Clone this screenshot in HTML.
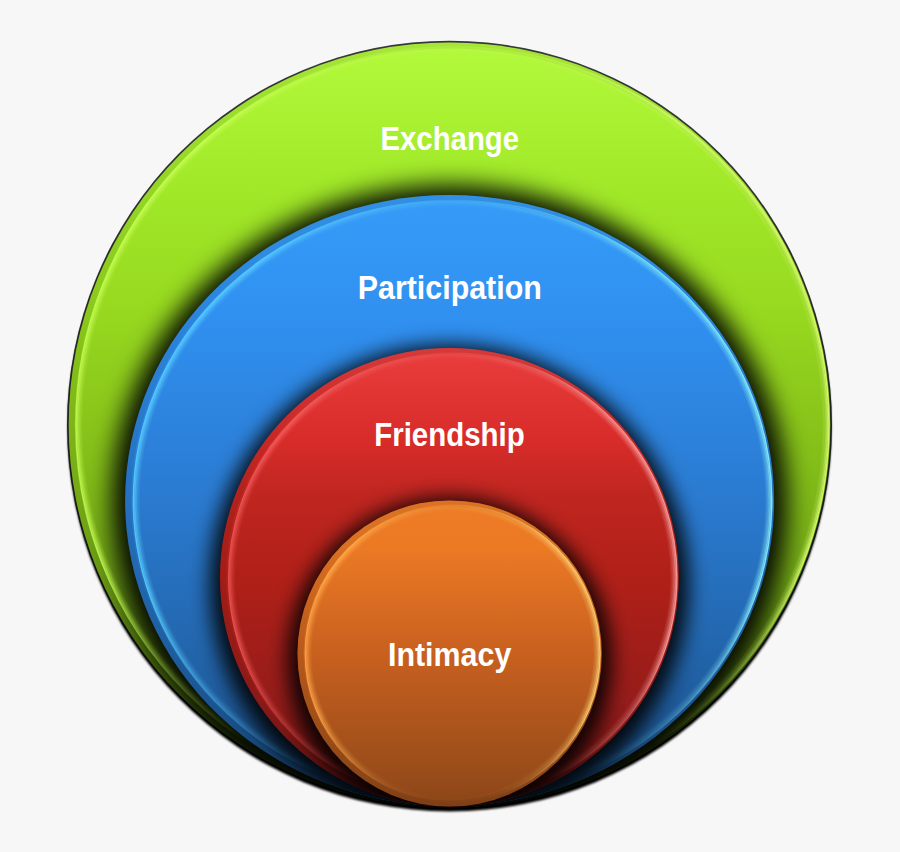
<!DOCTYPE html>
<html><head><meta charset="utf-8">
<style>
html,body{margin:0;padding:0;background:#f7f7f7;width:900px;height:852px;overflow:hidden}
svg{display:block}
text{font-family:"Liberation Sans",sans-serif;font-weight:bold;font-size:32.5px;fill:#fff}
</style></head><body>
<svg width="900" height="852" viewBox="0 0 900 852">
<rect width="900" height="852" fill="#f7f7f7"/>
<defs>
<linearGradient id="gG" x1="0" y1="42.39999999999998" x2="0" y2="807.6" gradientUnits="userSpaceOnUse"><stop offset="0" stop-color="#b3fa3c"/><stop offset="0.17" stop-color="#a2ea2a"/><stop offset="0.34" stop-color="#98da20"/><stop offset="0.5" stop-color="#88c41a"/><stop offset="0.7" stop-color="#74aa16"/><stop offset="0.85" stop-color="#557f10"/><stop offset="0.95" stop-color="#2a4008"/><stop offset="1" stop-color="#141e06"/></linearGradient>
<linearGradient id="gB" x1="0" y1="195.10000000000002" x2="0" y2="806.1" gradientUnits="userSpaceOnUse"><stop offset="0" stop-color="#369cf8"/><stop offset="0.2" stop-color="#3090f0"/><stop offset="0.5" stop-color="#2a7ad0"/><stop offset="0.72" stop-color="#2368b0"/><stop offset="1" stop-color="#184a80"/></linearGradient>
<linearGradient id="gR" x1="0" y1="348.0" x2="0" y2="806.5" gradientUnits="userSpaceOnUse"><stop offset="0" stop-color="#ea3e3e"/><stop offset="0.2" stop-color="#d82c2a"/><stop offset="0.32" stop-color="#c02620"/><stop offset="0.5" stop-color="#b02018"/><stop offset="0.77" stop-color="#961c1a"/><stop offset="1" stop-color="#6a1210"/></linearGradient>
<linearGradient id="gO" x1="0" y1="500.4" x2="0" y2="806.6" gradientUnits="userSpaceOnUse"><stop offset="0" stop-color="#ee7c26"/><stop offset="0.15" stop-color="#ec7a25"/><stop offset="0.5" stop-color="#c8601f"/><stop offset="0.9" stop-color="#984c1a"/><stop offset="1" stop-color="#8a4418"/></linearGradient>
<linearGradient id="gOut" x1="0" y1="40" x2="0" y2="810" gradientUnits="userSpaceOnUse"><stop offset="0" stop-color="#383838"/><stop offset="0.5" stop-color="#222"/><stop offset="0.8" stop-color="#080808"/><stop offset="1" stop-color="#000"/></linearGradient>
<linearGradient id="hG" x1="68.69999999999999" y1="0" x2="830.3" y2="0" gradientUnits="userSpaceOnUse"><stop offset="0" stop-color="#c8ff58" stop-opacity="0.85"/><stop offset="1" stop-color="#d8ff70" stop-opacity="0.95"/></linearGradient>
<linearGradient id="hB" x1="125.10000000000002" y1="0" x2="774.1" y2="0" gradientUnits="userSpaceOnUse"><stop offset="0" stop-color="#58d0ff" stop-opacity="0.9"/><stop offset="1" stop-color="#88f0ff" stop-opacity="0.95"/></linearGradient>
<linearGradient id="hR" x1="219.99999999999997" y1="0" x2="678.8" y2="0" gradientUnits="userSpaceOnUse"><stop offset="0" stop-color="#f05858" stop-opacity="0.85"/><stop offset="1" stop-color="#ffa0a0" stop-opacity="0.95"/></linearGradient>
<linearGradient id="hO" x1="297.45" y1="0" x2="601.8499999999999" y2="0" gradientUnits="userSpaceOnUse"><stop offset="0" stop-color="#ffa848" stop-opacity="0.85"/><stop offset="1" stop-color="#ffd070" stop-opacity="0.95"/></linearGradient>
<linearGradient id="mgG" x1="0" y1="42.39999999999998" x2="0" y2="807.6" gradientUnits="userSpaceOnUse"><stop offset="0" stop-color="#fff" stop-opacity="0.8"/><stop offset="0.2" stop-color="#fff" stop-opacity="1"/><stop offset="0.68" stop-color="#fff" stop-opacity="1"/><stop offset="0.84" stop-color="#fff" stop-opacity="0.3"/><stop offset="0.92" stop-color="#fff" stop-opacity="0"/></linearGradient>
<mask id="mG" maskUnits="userSpaceOnUse" x="0" y="0" width="900" height="852"><rect x="0" y="0" width="900" height="852" fill="url(#mgG)"/></mask>
<linearGradient id="mgB" x1="0" y1="195.10000000000002" x2="0" y2="806.1" gradientUnits="userSpaceOnUse"><stop offset="0" stop-color="#fff" stop-opacity="0.8"/><stop offset="0.2" stop-color="#fff" stop-opacity="1"/><stop offset="0.65" stop-color="#fff" stop-opacity="1"/><stop offset="0.86" stop-color="#fff" stop-opacity="0.3"/><stop offset="0.95" stop-color="#fff" stop-opacity="0"/></linearGradient>
<mask id="mB" maskUnits="userSpaceOnUse" x="0" y="0" width="900" height="852"><rect x="0" y="0" width="900" height="852" fill="url(#mgB)"/></mask>
<linearGradient id="mgR" x1="0" y1="348.0" x2="0" y2="806.5" gradientUnits="userSpaceOnUse"><stop offset="0" stop-color="#fff" stop-opacity="0.8"/><stop offset="0.2" stop-color="#fff" stop-opacity="1"/><stop offset="0.65" stop-color="#fff" stop-opacity="1"/><stop offset="0.86" stop-color="#fff" stop-opacity="0.3"/><stop offset="0.95" stop-color="#fff" stop-opacity="0"/></linearGradient>
<mask id="mR" maskUnits="userSpaceOnUse" x="0" y="0" width="900" height="852"><rect x="0" y="0" width="900" height="852" fill="url(#mgR)"/></mask>
<linearGradient id="mgO" x1="0" y1="500.4" x2="0" y2="806.6" gradientUnits="userSpaceOnUse"><stop offset="0" stop-color="#fff" stop-opacity="0.8"/><stop offset="0.2" stop-color="#fff" stop-opacity="1"/><stop offset="0.7" stop-color="#fff" stop-opacity="1"/><stop offset="0.9" stop-color="#fff" stop-opacity="0.3"/><stop offset="1.0" stop-color="#fff" stop-opacity="0"/></linearGradient>
<mask id="mO" maskUnits="userSpaceOnUse" x="0" y="0" width="900" height="852"><rect x="0" y="0" width="900" height="852" fill="url(#mgO)"/></mask>
<linearGradient id="hxG" x1="68.69999999999999" y1="0" x2="830.3" y2="0" gradientUnits="userSpaceOnUse"><stop offset="0" stop-color="#fff" stop-opacity="1"/><stop offset="0.2" stop-color="#fff" stop-opacity="1"/><stop offset="0.325" stop-color="#fff" stop-opacity="0.6"/><stop offset="0.5" stop-color="#fff" stop-opacity="0.3"/><stop offset="0.675" stop-color="#fff" stop-opacity="0.6"/><stop offset="0.8" stop-color="#fff" stop-opacity="1"/><stop offset="1" stop-color="#fff" stop-opacity="1"/></linearGradient>
<mask id="mxG" maskUnits="userSpaceOnUse" x="0" y="0" width="900" height="852"><rect x="0" y="0" width="900" height="852" fill="url(#hxG)"/></mask>
<linearGradient id="hxB" x1="125.10000000000002" y1="0" x2="774.1" y2="0" gradientUnits="userSpaceOnUse"><stop offset="0" stop-color="#fff" stop-opacity="1"/><stop offset="0.2" stop-color="#fff" stop-opacity="1"/><stop offset="0.325" stop-color="#fff" stop-opacity="0.6"/><stop offset="0.5" stop-color="#fff" stop-opacity="0.3"/><stop offset="0.675" stop-color="#fff" stop-opacity="0.6"/><stop offset="0.8" stop-color="#fff" stop-opacity="1"/><stop offset="1" stop-color="#fff" stop-opacity="1"/></linearGradient>
<mask id="mxB" maskUnits="userSpaceOnUse" x="0" y="0" width="900" height="852"><rect x="0" y="0" width="900" height="852" fill="url(#hxB)"/></mask>
<linearGradient id="hxR" x1="219.99999999999997" y1="0" x2="678.8" y2="0" gradientUnits="userSpaceOnUse"><stop offset="0" stop-color="#fff" stop-opacity="1"/><stop offset="0.2" stop-color="#fff" stop-opacity="1"/><stop offset="0.325" stop-color="#fff" stop-opacity="0.6"/><stop offset="0.5" stop-color="#fff" stop-opacity="0.3"/><stop offset="0.675" stop-color="#fff" stop-opacity="0.6"/><stop offset="0.8" stop-color="#fff" stop-opacity="1"/><stop offset="1" stop-color="#fff" stop-opacity="1"/></linearGradient>
<mask id="mxR" maskUnits="userSpaceOnUse" x="0" y="0" width="900" height="852"><rect x="0" y="0" width="900" height="852" fill="url(#hxR)"/></mask>
<linearGradient id="hxO" x1="297.45" y1="0" x2="601.8499999999999" y2="0" gradientUnits="userSpaceOnUse"><stop offset="0" stop-color="#fff" stop-opacity="1"/><stop offset="0.2" stop-color="#fff" stop-opacity="1"/><stop offset="0.325" stop-color="#fff" stop-opacity="0.6"/><stop offset="0.5" stop-color="#fff" stop-opacity="0.3"/><stop offset="0.675" stop-color="#fff" stop-opacity="0.6"/><stop offset="0.8" stop-color="#fff" stop-opacity="1"/><stop offset="1" stop-color="#fff" stop-opacity="1"/></linearGradient>
<mask id="mxO" maskUnits="userSpaceOnUse" x="0" y="0" width="900" height="852"><rect x="0" y="0" width="900" height="852" fill="url(#hxO)"/></mask>
<filter id="fshB" x="-20%" y="-20%" width="140%" height="140%"><feGaussianBlur stdDeviation="12"/></filter>
<filter id="fshR" x="-20%" y="-20%" width="140%" height="140%"><feGaussianBlur stdDeviation="10"/></filter>
<filter id="fshO" x="-20%" y="-20%" width="140%" height="140%"><feGaussianBlur stdDeviation="10"/></filter>
<filter id="sh3" x="-20%" y="-20%" width="140%" height="140%"><feGaussianBlur stdDeviation="0.8"/></filter>
<filter id="sh2" x="-20%" y="-20%" width="140%" height="140%"><feGaussianBlur stdDeviation="1.6"/></filter>
<filter id="hl" x="-20%" y="-20%" width="140%" height="140%"><feGaussianBlur stdDeviation="0.6"/></filter>
<filter id="hl2" x="-20%" y="-20%" width="140%" height="140%"><feGaussianBlur stdDeviation="1.6"/></filter>
<clipPath id="cG"><ellipse cx="449.50" cy="425.00" rx="380.80" ry="382.60" /></clipPath>
<clipPath id="cB"><ellipse cx="449.60" cy="500.60" rx="324.50" ry="305.50" /></clipPath>
<clipPath id="cR"><ellipse cx="449.40" cy="577.25" rx="229.40" ry="229.25" /></clipPath>
<clipPath id="cO"><ellipse cx="449.65" cy="653.50" rx="152.20" ry="153.10" /></clipPath>
</defs>
<ellipse cx="449.50" cy="427.80" rx="381.80" ry="383.60" fill="#000" filter="url(#sh3)"/>
<ellipse cx="449.50" cy="425.00" rx="382.50" ry="384.30" fill="url(#gOut)" filter="url(#hl)"/>
<ellipse cx="449.50" cy="425.00" rx="380.80" ry="382.60" fill="url(#gG)"/>
<g clip-path="url(#cG)"><ellipse cx="449.50" cy="425.00" rx="380.80" ry="382.60" fill="none" stroke="#000" stroke-opacity="0.08" stroke-width="12"/><ellipse cx="449.60" cy="503.60" rx="337.50" ry="318.50" fill="#000" fill-opacity="0.95" filter="url(#fshB)"/><g mask="url(#mxG)"><ellipse cx="452.50" cy="425.00" rx="376.50" ry="378.30" fill="none" stroke="url(#hG)" stroke-width="1.5" stroke-opacity="0.95" filter="url(#hl)" mask="url(#mG)"/><ellipse cx="452.50" cy="425.00" rx="375.10" ry="376.90" fill="none" stroke="url(#hG)" stroke-width="1.5" stroke-opacity="0.75" filter="url(#hl)" mask="url(#mG)"/><ellipse cx="452.50" cy="425.00" rx="373.70" ry="375.50" fill="none" stroke="url(#hG)" stroke-width="1.5" stroke-opacity="0.5" filter="url(#hl)" mask="url(#mG)"/><ellipse cx="452.50" cy="425.00" rx="372.30" ry="374.10" fill="none" stroke="url(#hG)" stroke-width="1.5" stroke-opacity="0.28" filter="url(#hl)" mask="url(#mG)"/><ellipse cx="452.50" cy="425.00" rx="370.90" ry="372.70" fill="none" stroke="url(#hG)" stroke-width="1.5" stroke-opacity="0.12" filter="url(#hl)" mask="url(#mG)"/></g></g>
<ellipse cx="449.60" cy="500.60" rx="324.50" ry="305.50" fill="url(#gB)"/>
<g clip-path="url(#cB)"><ellipse cx="449.60" cy="500.60" rx="324.50" ry="305.50" fill="none" stroke="#000" stroke-opacity="0.08" stroke-width="12"/><ellipse cx="449.40" cy="584.25" rx="239.40" ry="239.25" fill="#000" fill-opacity="0.9" filter="url(#fshR)"/><g mask="url(#mxB)"><ellipse cx="452.60" cy="500.60" rx="319.20" ry="300.20" fill="none" stroke="url(#hB)" stroke-width="1.5" stroke-opacity="0.95" filter="url(#hl)" mask="url(#mB)"/><ellipse cx="452.60" cy="500.60" rx="317.80" ry="298.80" fill="none" stroke="url(#hB)" stroke-width="1.5" stroke-opacity="0.75" filter="url(#hl)" mask="url(#mB)"/><ellipse cx="452.60" cy="500.60" rx="316.40" ry="297.40" fill="none" stroke="url(#hB)" stroke-width="1.5" stroke-opacity="0.5" filter="url(#hl)" mask="url(#mB)"/><ellipse cx="452.60" cy="500.60" rx="315.00" ry="296.00" fill="none" stroke="url(#hB)" stroke-width="1.5" stroke-opacity="0.28" filter="url(#hl)" mask="url(#mB)"/><ellipse cx="452.60" cy="500.60" rx="313.60" ry="294.60" fill="none" stroke="url(#hB)" stroke-width="1.5" stroke-opacity="0.12" filter="url(#hl)" mask="url(#mB)"/></g></g>
<ellipse cx="449.40" cy="577.25" rx="229.40" ry="229.25" fill="url(#gR)"/>
<g clip-path="url(#cR)"><ellipse cx="449.40" cy="577.25" rx="229.40" ry="229.25" fill="none" stroke="#000" stroke-opacity="0.08" stroke-width="12"/><ellipse cx="449.65" cy="660.50" rx="162.20" ry="163.10" fill="#000" fill-opacity="0.9" filter="url(#fshO)"/><g mask="url(#mxR)"><ellipse cx="452.80" cy="577.25" rx="224.10" ry="223.95" fill="none" stroke="url(#hR)" stroke-width="1.5" stroke-opacity="0.95" filter="url(#hl)" mask="url(#mR)"/><ellipse cx="452.80" cy="577.25" rx="222.70" ry="222.55" fill="none" stroke="url(#hR)" stroke-width="1.5" stroke-opacity="0.75" filter="url(#hl)" mask="url(#mR)"/><ellipse cx="452.80" cy="577.25" rx="221.30" ry="221.15" fill="none" stroke="url(#hR)" stroke-width="1.5" stroke-opacity="0.5" filter="url(#hl)" mask="url(#mR)"/><ellipse cx="452.80" cy="577.25" rx="219.90" ry="219.75" fill="none" stroke="url(#hR)" stroke-width="1.5" stroke-opacity="0.28" filter="url(#hl)" mask="url(#mR)"/><ellipse cx="452.80" cy="577.25" rx="218.50" ry="218.35" fill="none" stroke="url(#hR)" stroke-width="1.5" stroke-opacity="0.12" filter="url(#hl)" mask="url(#mR)"/></g></g>
<ellipse cx="449.65" cy="653.50" rx="152.20" ry="153.10" fill="url(#gO)"/>
<g clip-path="url(#cO)"><ellipse cx="449.65" cy="653.50" rx="152.20" ry="153.10" fill="none" stroke="#000" stroke-opacity="0.08" stroke-width="12"/><g mask="url(#mxO)"><ellipse cx="452.65" cy="653.50" rx="147.40" ry="148.30" fill="none" stroke="url(#hO)" stroke-width="1.5" stroke-opacity="0.95" filter="url(#hl)" mask="url(#mO)"/><ellipse cx="452.65" cy="653.50" rx="146.00" ry="146.90" fill="none" stroke="url(#hO)" stroke-width="1.5" stroke-opacity="0.75" filter="url(#hl)" mask="url(#mO)"/><ellipse cx="452.65" cy="653.50" rx="144.60" ry="145.50" fill="none" stroke="url(#hO)" stroke-width="1.5" stroke-opacity="0.5" filter="url(#hl)" mask="url(#mO)"/><ellipse cx="452.65" cy="653.50" rx="143.20" ry="144.10" fill="none" stroke="url(#hO)" stroke-width="1.5" stroke-opacity="0.28" filter="url(#hl)" mask="url(#mO)"/><ellipse cx="452.65" cy="653.50" rx="141.80" ry="142.70" fill="none" stroke="url(#hO)" stroke-width="1.5" stroke-opacity="0.12" filter="url(#hl)" mask="url(#mO)"/></g></g>
<text x="380.4" y="149.8" textLength="138.7" lengthAdjust="spacingAndGlyphs">Exchange</text>
<text x="357.77" y="298.9" textLength="184.02" lengthAdjust="spacingAndGlyphs">Participation</text>
<text x="374.19" y="445.75" textLength="150.52" lengthAdjust="spacingAndGlyphs">Friendship</text>
<text x="387.96" y="666.0" textLength="123.4" lengthAdjust="spacingAndGlyphs">Intimacy</text>
</svg>
</body></html>
